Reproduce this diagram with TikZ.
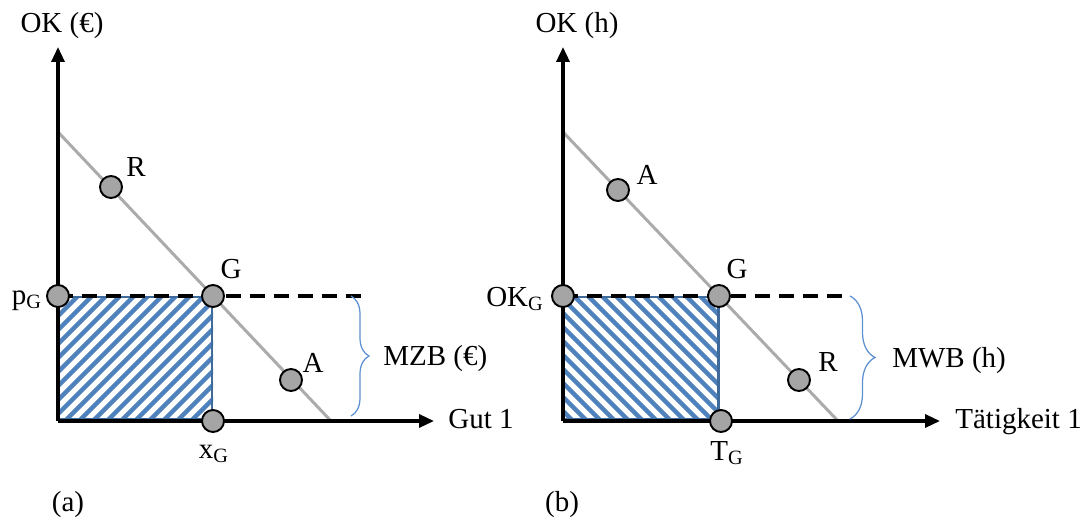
\documentclass[tikz,border=0pt]{standalone}
\usepackage{fontspec}
\setmainfont{Liberation Serif}
\usetikzlibrary{arrows.meta,decorations.pathreplacing,backgrounds}
\definecolor{hatchc}{HTML}{4F81BD}
\definecolor{framec}{HTML}{3F6A9C}
\definecolor{bracec}{HTML}{5B8FD0}
\definecolor{dotc}{HTML}{A5A5A5}
\definecolor{linec}{HTML}{ABABAB}
\tikzset{
  dot/.style={circle, draw=black, line width=1.1pt, fill=dotc, minimum size=0.44cm, inner sep=0pt},
  axis/.style={black, line width=1.9pt, -{Triangle[length=0.3cm,width=0.26cm]}},
  costline/.style={linec, line width=1.7pt},
  level/.style={black, line width=2.2pt, dash pattern=on 0.3cm off 0.18cm},
  stripe/.style={hatchc, line width=2.5pt},
  frame/.style={framec, line width=1.7pt},
  bracket/.style={bracec, line width=0.7pt, decorate, decoration={brace, amplitude=#1}},
  lbl/.style={inner sep=0pt, anchor=base}
}

\begin{document}
\begin{tikzpicture}[x=0.02cm, y=-0.02cm, font=\fontsize{16.5}{19}\selectfont]
  \useasboundingbox (0,0) rectangle (1089,521);
  % panel (a)
  \coordinate (Oa) at (58,421);
  \coordinate (Ya) at (58,47);
  \coordinate (Xa) at (434,421);
  \coordinate (La) at (58,132);
  \coordinate (Ma) at (331,421);
  \coordinate (Da) at (362,296);
  \node[dot] (pG) at (58,296) {};
  \node[dot] (Ga) at (213,296) {};
  \node[dot] (xG) at (213,421) {};
  \node[dot] (Ra) at (111,187) {};
  \node[dot] (Aa) at (291,380) {};
  \begin{scope}[on background layer]
    \begin{scope}
      \clip (58,296) rectangle (213,421);
      \foreach \k in {0,...,22}
        \draw[stripe] ({-75+14*\k},421) -- ++(140,-140);
    \end{scope}
    \draw[frame] (58,297) rectangle (212,419);
    \draw[costline] (La) -- (Ma);
    \draw[level] (pG.center) -- (Da);
    \draw[axis] (Oa) -- (Ya);
    \draw[axis] (Oa) -- (Xa);
  \end{scope}
  \draw[bracket=0.36cm] (351,296) -- (351,416);
  \node[lbl] (okA) at (62,32) {OK (€)};
  \node[lbl] (pGl) at (27,304) {p\textsubscript{G}};
  \node[lbl] (xGl) at (214,458) {x\textsubscript{G}};
  \node[lbl] (GAl) at (231,278) {G};
  \node[lbl] (RAl) at (136,176) {R};
  \node[lbl] (AAl) at (313,372) {A};
  \node[lbl, anchor=base west] (mzb) at (383,365) {MZB (€)};
  \node[lbl, anchor=base west] (gut) at (448,428) {Gut 1};
  \node[lbl] (capa) at (68,511) {(a)};
  % panel (b)
  \coordinate (Ob) at (563,421);
  \coordinate (Yb) at (563,47);
  \coordinate (Xb) at (940,421);
  \coordinate (Lb) at (563,132);
  \coordinate (Mb) at (838,421);
  \coordinate (Db) at (843,296);
  \node[dot] (OKG) at (563,296) {};
  \node[dot] (Gb) at (719,296) {};
  \node[dot] (TG) at (721,421) {};
  \node[dot] (Ab) at (618,190) {};
  \node[dot] (Rb) at (799,380) {};
  \begin{scope}[on background layer]
    \begin{scope}
      \clip (563,296) rectangle (719,421);
      \foreach \k in {0,...,22}
        \draw[stripe] ({545+14*\k},421) -- ++(-140,-140);
    \end{scope}
    \draw[frame] (563,297) rectangle (718,419);
    \draw[costline] (Lb) -- (Mb);
    \draw[level] (OKG.center) -- (Db);
    \draw[axis] (Ob) -- (Yb);
    \draw[axis] (Ob) -- (Xb);
  \end{scope}
  \draw[bracket=0.5cm] (850,296) -- (850,419);
  \node[lbl] (okB) at (577,32) {OK (h)};
  \node[lbl] (OKGl) at (515,306) {OK\textsubscript{G}};
  \node[lbl] (TGl) at (727,460) {T\textsubscript{G}};
  \node[lbl] (GBl) at (737,278) {G};
  \node[lbl] (ABl) at (647,184) {A};
  \node[lbl] (RBl) at (828,371) {R};
  \node[lbl, anchor=base west] (mwb) at (892,367) {MWB (h)};
  \node[lbl, anchor=base west] (tat) at (955,428) {Tätigkeit 1};
  \node[lbl] (capb) at (562,511) {(b)};
\end{tikzpicture}
\end{document}
